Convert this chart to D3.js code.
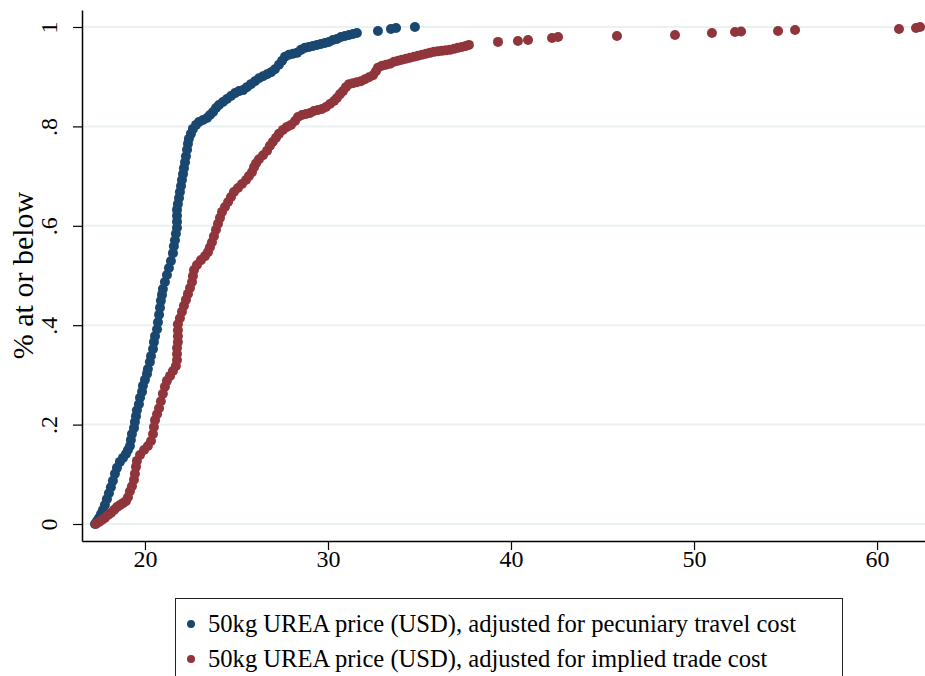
<!DOCTYPE html>
<html><head><meta charset="utf-8">
<script src="https://cdn.jsdelivr.net/npm/d3@7/dist/d3.min.js"></script>
<style>body{margin:0;background:#fff}svg{display:block}</style>
</head><body>
<svg id="chart" width="925" height="676"></svg>
<script>
// ---- data ----
const seriesNames = [
  "50kg UREA price (USD), adjusted for pecuniary travel cost",
  "50kg UREA price (USD), adjusted for implied trade cost"
];
const travelX = [17.27,17.38,17.49,17.60,17.70,17.81,17.92,18.03,18.14,18.25,
  18.36,18.47,18.63,18.80,18.96,19.07,19.18,19.23,19.29,19.40,
  19.45,19.51,19.56,19.67,19.73,19.84,19.89,20.00,20.11,20.16,
  20.27,20.33,20.44,20.49,20.55,20.66,20.71,20.77,20.82,20.87,
  20.93,20.98,21.09,21.20,21.31,21.42,21.53,21.58,21.64,21.69,
  21.75,21.75,21.75,21.75,21.80,21.86,21.91,21.97,22.02,22.08,
  22.13,22.19,22.24,22.30,22.35,22.40,22.51,22.62,22.79,22.95,
  23.17,23.39,23.55,23.72,23.88,24.04,24.26,24.48,24.70,24.92,
  25.14,25.36,25.57,25.79,26.01,26.23,26.45,26.67,26.89,27.10,
  27.32,27.49,27.65,27.87,28.09,28.31,28.52,28.74,28.96,29.18,
  29.40,29.62,29.84,30.05,30.27,30.49,30.71,30.93,31.15,31.37,
  31.58,32.73,33.44,33.72,34.75];
const travelY = [0,.006,.012,.020,.028,.038,.050,.062,.074,.087,
  .101,.113,.125,.133,.141,.149,.157,.169,.181,.193,
  .205,.217,.229,.241,.254,.266,.278,.290,.302,.312,
  .326,.338,.352,.366,.378,.392,.406,.421,.435,.449,
  .461,.473,.487,.501,.515,.529,.545,.559,.571,.584,
  .596,.608,.620,.632,.644,.656,.668,.680,.692,.704,
  .716,.728,.740,.753,.765,.775,.785,.795,.803,.809,
  .813,.817,.823,.829,.837,.843,.849,.855,.861,.867,
  .871,.873,.879,.885,.891,.897,.901,.905,.909,.915,
  .924,.932,.940,.944,.946,.948,.954,.958,.960,.962,
  .964,.966,.968,.970,.974,.976,.980,.982,.984,.986,
  .988,.992,.996,.998,1];
const tradeX = [17.32,17.49,17.65,17.81,17.98,18.14,18.31,18.47,18.63,18.80,
  18.96,19.07,19.18,19.29,19.40,19.45,19.51,19.56,19.73,19.95,
  20.16,20.33,20.44,20.49,20.55,20.66,20.77,20.87,20.98,21.09,
  21.20,21.37,21.53,21.69,21.75,21.75,21.75,21.80,21.80,21.80,
  21.80,21.91,22.02,22.13,22.24,22.35,22.46,22.57,22.62,22.68,
  22.84,23.06,23.28,23.44,23.55,23.66,23.77,23.88,23.99,24.10,
  24.21,24.37,24.54,24.70,24.86,25.08,25.30,25.52,25.68,25.85,
  25.96,26.07,26.23,26.45,26.67,26.83,26.99,27.16,27.32,27.54,
  27.76,27.98,28.20,28.36,28.58,28.80,29.02,29.23,29.45,29.67,
  29.89,30.11,30.33,30.49,30.66,30.82,30.98,31.15,31.37,31.58,
  31.80,32.02,32.24,32.46,32.62,32.73,32.95,33.17,33.39,33.61,
  33.83,34.04,34.26,34.48,34.70,34.92,35.14,35.36,35.57,35.79,
  36.01,36.23,36.45,36.67,36.89,37.10,37.32,37.54,37.70,
  39.29,40.38,40.93,42.24,42.57,45.79,48.96,50.98,52.24,52.57,
  54.59,55.52,61.20,62.13,62.35];
const tradeY = [0,.004,.008,.012,.018,.022,.028,.034,.038,.042,
  .046,.054,.066,.076,.089,.101,.115,.127,.139,.149,
  .157,.167,.181,.195,.209,.221,.233,.247,.262,.276,
  .288,.298,.308,.318,.330,.342,.354,.366,.378,.390,
  .402,.414,.427,.439,.451,.463,.475,.487,.499,.511,
  .521,.531,.539,.547,.557,.567,.579,.592,.604,.616,
  .628,.638,.648,.658,.668,.676,.684,.692,.700,.708,
  .718,.726,.734,.742,.751,.761,.769,.777,.785,.793,
  .799,.803,.811,.819,.823,.825,.827,.831,.833,.835,
  .839,.845,.851,.857,.865,.871,.879,.885,.887,.889,
  .891,.895,.899,.903,.911,.918,.922,.924,.926,.930,
  .932,.934,.936,.938,.940,.942,.944,.946,.948,.950,
  .951,.952,.953,.954,.956,.958,.960,.962,.964,
  .970,.972,.974,.978,.980,.982,.984,.988,.990,.991,
  .992,.994,.996,.998,1];
const xTicks = [20,30,40,50,60];
const yTicks = [0,0.2,0.4,0.6,0.8,1];
const yTickLabels = ["0",".2",".4",".6",".8","1"];
const yTitle = "% at or below";
const colors = ["#1a476f","#90353b"];

// ---- layout ----
const W = 925, H = 676;
const P = {left:82, right:925, top:10, bottom:541};
const FONT = "'Liberation Serif','Times New Roman',serif";
const svg = d3.select("#chart");
svg.append("rect").attr("width",W).attr("height",H).attr("fill","#fff");

const x = d3.scaleLinear().domain([16.56, 62.62]).range([P.left, P.right]);
const y = d3.scaleLinear().domain([-0.0342, 1.0342]).range([P.bottom, P.top]);

// gridlines
svg.append("g").selectAll("line").data(yTicks).join("line")
  .attr("x1",P.left).attr("x2",P.right)
  .attr("y1",d=>y(d)).attr("y2",d=>y(d))
  .attr("stroke","#eaf1f3").attr("stroke-width",2);

// series
const series = [
  travelX.map((v,i)=>({x:v,y:travelY[i]})),
  tradeX.map((v,i)=>({x:v,y:tradeY[i]}))
];
series.forEach((pts,k)=>{
  svg.append("g").selectAll("circle").data(pts).join("circle")
    .attr("cx",d=>x(d.x)).attr("cy",d=>y(d.y)).attr("r",5)
    .attr("fill",colors[k]);
});

// axes
const yAxis = svg.append("g").attr("transform",`translate(${P.left},0)`)
  .call(d3.axisLeft(y).tickValues(yTicks).tickSize(9).tickSizeOuter(0)
    .tickFormat((d,i)=>yTickLabels[i]));
yAxis.select(".domain").attr("stroke","#000").attr("stroke-width",1.5);
yAxis.selectAll(".tick line").attr("stroke","#000").attr("stroke-width",1.2);
yAxis.selectAll(".tick text")
  .attr("transform","rotate(-90)").attr("x",0).attr("y",-25).attr("dy",0)
  .attr("text-anchor","middle").attr("font-family",FONT).attr("font-size",24).attr("fill","#000");

const xAxis = svg.append("g").attr("transform",`translate(0,${P.bottom})`)
  .call(d3.axisBottom(x).tickValues(xTicks).tickSize(9).tickSizeOuter(0));
xAxis.select(".domain").attr("stroke","#000").attr("stroke-width",1.5);
xAxis.selectAll(".tick line").attr("stroke","#000").attr("stroke-width",1.2);
xAxis.selectAll(".tick text").attr("y",26).attr("dy",0)
  .attr("font-family",FONT).attr("font-size",24).attr("fill","#000");

// y title
svg.append("text").attr("transform",`translate(33,${(P.top+P.bottom)/2}) rotate(-90)`)
  .attr("text-anchor","middle").attr("font-family",FONT).attr("font-size",30)
  .attr("fill","#000").text(yTitle);

// legend
const lg = svg.append("g");
lg.append("rect").attr("x",175.5).attr("y",598.5).attr("width",667).attr("height",100)
  .attr("fill","#fff").attr("stroke","#222").attr("stroke-width",1);
seriesNames.forEach((name,i)=>{
  const cy = 624 + i*35;
  lg.append("circle").attr("cx",191).attr("cy",cy).attr("r",4).attr("fill",colors[i]);
  lg.append("text").attr("x",208).attr("y",cy+8).attr("font-family",FONT)
    .attr("font-size",24.6).attr("fill","#000").text(name);
});
</script>
</body></html>
